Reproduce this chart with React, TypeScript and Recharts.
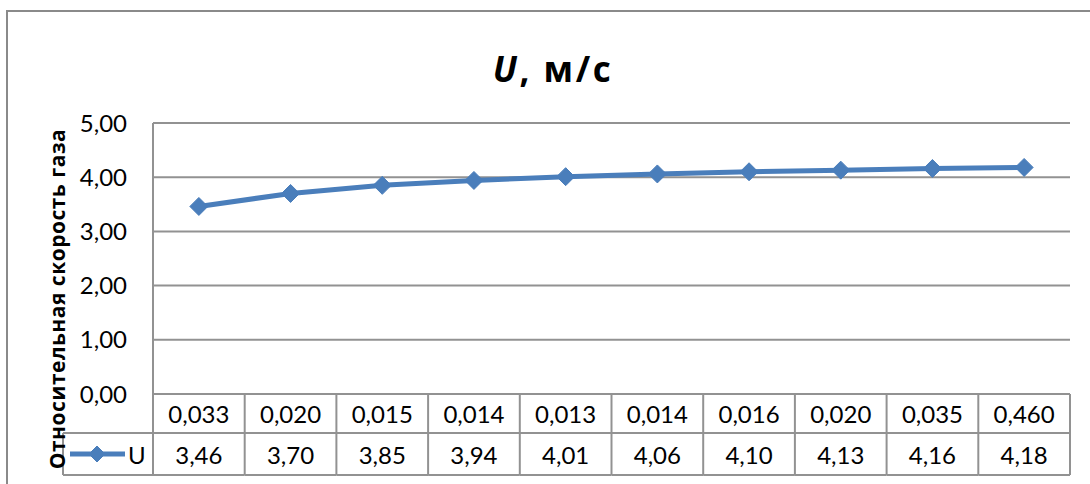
import { LineChart, Line, XAxis, YAxis, CartesianGrid, Customized } from 'recharts';

// Relative gas velocity per measurement point, with the spread shown in the top table row
const spreads = ['0,033', '0,020', '0,015', '0,014', '0,013', '0,014', '0,016', '0,020', '0,035', '0,460'];
const velocities = [3.46, 3.7, 3.85, 3.94, 4.01, 4.06, 4.1, 4.13, 4.16, 4.18];
const yTicks = [0, 1, 2, 3, 4, 5];

const seriesName = 'U';
const chartTitle = 'м/с';
const yTitle = 'Относительная скорость газа';

const data = velocities.map((u, i) => ({ idx: i, spread: spreads[i], u }));

const W = 1090;
const H = 484;
const PLOT_L = 153;
const PLOT_R = 1070;
const PLOT_T = 123;
const PLOT_B = 394;
const ROW1 = 39;
const ROW2 = 42;
const LEGEND_L = 63;
const BAND = (PLOT_R - PLOT_L) / data.length;

const BLUE = '#4a7ebb';
const GRID = '#929292';
const FONT = 'Lato, "Open Sans", sans-serif';
const BOLD_FONT = '"Open Sans", "Noto Sans", sans-serif';

const fmt = (v: number) => v.toFixed(2).replace('.', ',');

function Diamond({ cx, cy, r = 9 }: { cx?: number; cy?: number; r?: number }) {
  if (cx == null || cy == null) return null;
  return (
    <polygon
      points={`${cx},${cy - r} ${cx + r},${cy} ${cx},${cy + r} ${cx - r},${cy}`}
      fill={BLUE}
      stroke={BLUE}
      strokeWidth={1}
    />
  );
}

// each x tick draws its own column of the data table
function TableTick(props: any) {
  const { x, y, index } = props;
  const row = data[index];
  if (!row) return null;
  const left = x - BAND / 2;
  return (
    <g>
      <line x1={left} y1={y + ROW1} x2={left + BAND} y2={y + ROW1} stroke={GRID} strokeWidth={2} />
      <line x1={left} y1={y + ROW1 + ROW2} x2={left + BAND} y2={y + ROW1 + ROW2} stroke={GRID} strokeWidth={2} />
      <line x1={left + BAND} y1={y} x2={left + BAND} y2={y + ROW1 + ROW2} stroke={GRID} strokeWidth={2} />
      <text x={x} y={y + ROW1 / 2} textAnchor="middle" dominantBaseline="central" fontSize={24} fill="#000" fontFamily={FONT}>
        {row.spread}
      </text>
      <text x={x} y={y + ROW1 + ROW2 / 2} textAnchor="middle" dominantBaseline="central" fontSize={24} fill="#000" fontFamily={FONT}>
        {fmt(row.u)}
      </text>
    </g>
  );
}

function Decor() {
  const rowTop = PLOT_B + ROW1;
  const rowBot = rowTop + ROW2;
  const midY = rowTop + ROW2 / 2;
  return (
    <g>
      {/* outer chart frame */}
      <rect x={7} y={11} width={1100} height={500} fill="none" stroke="#8a8a8a" strokeWidth={2} />
      {/* table left edges and legend cell */}
      <line x1={PLOT_L} y1={PLOT_T} x2={PLOT_L} y2={rowBot} stroke={GRID} strokeWidth={2} />
      <line x1={LEGEND_L} y1={rowTop} x2={PLOT_L} y2={rowTop} stroke={GRID} strokeWidth={2} />
      <line x1={LEGEND_L} y1={rowBot} x2={PLOT_L} y2={rowBot} stroke={GRID} strokeWidth={2} />
      <line x1={LEGEND_L} y1={rowTop} x2={LEGEND_L} y2={rowBot} stroke={GRID} strokeWidth={2} />
      <line x1={70} y1={midY} x2={125} y2={midY} stroke={BLUE} strokeWidth={5} />
      <Diamond cx={97} cy={midY} r={8} />
      <text x={128} y={midY} dominantBaseline="central" fontSize={24} fill="#000" fontFamily={FONT}>
        {seriesName}
      </text>
      {/* axis title */}
      <text
        x={0}
        y={0}
        transform={`translate(57, 299) rotate(-90)`}
        textAnchor="middle"
        dominantBaseline="central"
        fontSize={21}
        letterSpacing={0.5}
        fontWeight="bold"
        fill="#000"
        fontFamily={BOLD_FONT}
      >
        {yTitle}
      </text>
      {/* chart title */}
      <text
        x={553}
        y={68}
        textAnchor="middle"
        dominantBaseline="central"
        fontSize={35}
        letterSpacing={2.5}
        fontWeight="bold"
        fill="#000"
        fontFamily={BOLD_FONT}
      >
        <tspan fontStyle="italic">{seriesName}</tspan>
        <tspan>{', ' + chartTitle}</tspan>
      </text>
    </g>
  );
}

export default function App() {
  return (
    <div style={{ position: 'absolute', left: 0, top: 0, width: W, height: H, background: '#fff' }}>
      <LineChart
        width={W}
        height={H}
        data={data}
        margin={{ top: PLOT_T, right: W - PLOT_R, left: PLOT_L - 100, bottom: H - PLOT_B - ROW1 - ROW2 }}
      >
        <CartesianGrid vertical={false} stroke={GRID} strokeWidth={2} />
        <XAxis
          dataKey="idx"
          scale="band"
          interval={0}
          axisLine={false}
          tickLine={false}
          tickSize={0}
          tickMargin={0}
          height={ROW1 + ROW2}
          tick={(p: any) => <TableTick {...p} />}
        />
        <YAxis
          width={100}
          domain={[0, 5]}
          ticks={yTicks}
          axisLine={false}
          tickLine={false}
          tickSize={0}
          tickMargin={26}
          tickFormatter={fmt}
          tick={{ fontSize: 24, fill: '#000', fontFamily: FONT }}
        />
        <Line
          dataKey="u"
          stroke={BLUE}
          strokeWidth={5}
          isAnimationActive={false}
          dot={(p: any) => <Diamond key={p.index} cx={p.cx} cy={p.cy} />}
          activeDot={false}
        />
        <Customized component={<Decor />} />
      </LineChart>
    </div>
  );
}
